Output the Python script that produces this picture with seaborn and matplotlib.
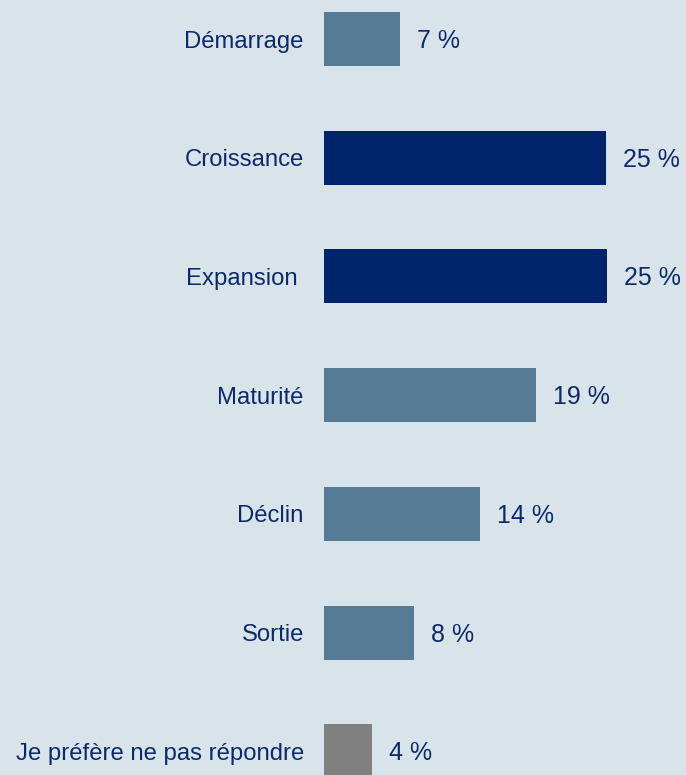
import matplotlib
matplotlib.use("Agg")
import matplotlib.pyplot as plt
import seaborn as sns
import pandas as pd

categories = ["Démarrage", "Croissance", "Expansion ", "Maturité", "Déclin", "Sortie",
              "Je préfère ne pas répondre"]
values = [6.76, 25.07, 25.16, 18.84, 13.87, 8.0, 4.27]
labels = ["7 %", "25 %", "25 %", "19 %", "14 %", "8 %", "4 %"]
bar_colors = ["#577b95", "#002469", "#002469", "#577b95", "#577b95", "#577b95", "#808080"]

bg = "#d9e3ea"
txt = "#0c2a6b"

sns.set_theme(style="white")
plt.rcParams["font.family"] = ["Liberation Sans", "DejaVu Sans"]

W, H = 686, 775
fig = plt.figure(figsize=(W / 100, H / 100), dpi=100, facecolor=bg)
left = 324 / W
ax = fig.add_axes([left, 0, 1 - left, 1])
ax.set_facecolor(bg)

df = pd.DataFrame({"cat": categories, "val": values})
sns.barplot(data=df, x="val", y="cat", hue="cat", palette=bar_colors,
            legend=False, width=0.455, orient="h", ax=ax, saturation=1,
            linewidth=0, edgecolor="none")

ax.set_xlim(0, (W - 324) / 11.25)
ax.set_ylim(6.2, -0.3286)
for s in ax.spines.values():
    s.set_visible(False)
ax.set_xticks([])
ax.set_xlabel("")
ax.set_ylabel("")
ax.tick_params(axis="y", length=0, pad=14.5, labelsize=17.2, labelcolor=txt)

for i, (v, lab) in enumerate(zip(values, labels)):
    ax.annotate(lab, xy=(v, i), xytext=(12, -6.5), textcoords="offset points",
                ha="left", va="baseline", fontsize=18, color=txt)

fig.savefig("out.png", dpi=100, facecolor=bg)
